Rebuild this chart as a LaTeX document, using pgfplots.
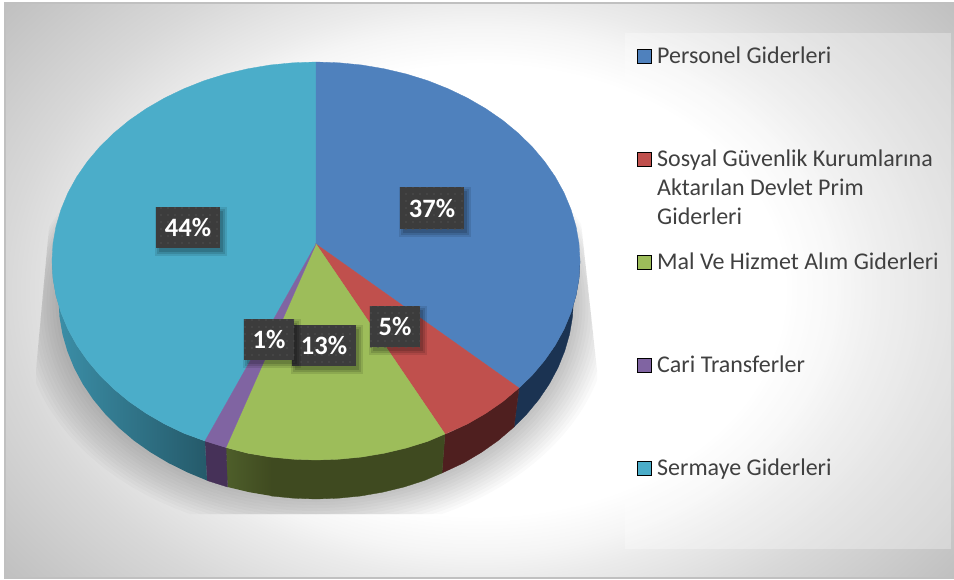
\documentclass[border=0pt]{standalone}
\usepackage{fontspec}
\setmainfont{Carlito}
\usepackage{pgfplots}
\pgfplotsset{compat=1.18}
\usetikzlibrary{patterns,calc}
\definecolor{cA}{HTML}{4F81BD}
\definecolor{cB}{HTML}{C0504D}
\definecolor{cC}{HTML}{9DBD5A}
\definecolor{cD}{HTML}{8064A2}
\definecolor{cE}{HTML}{4BADC9}
\definecolor{sA}{HTML}{1B3352}
\definecolor{sB}{HTML}{4F1F1F}
\definecolor{sCa}{HTML}{4E5E2A}
\definecolor{sCb}{HTML}{3F4A20}
\definecolor{sD}{HTML}{463158}
\definecolor{sEa}{HTML}{3C90A9}
\definecolor{sEb}{HTML}{255A6A}
\definecolor{boxc}{HTML}{3C3C3C}
\definecolor{boxd}{HTML}{505050}
\definecolor{txt}{HTML}{404040}
\definecolor{g245}{HTML}{F5F5F5}
\definecolor{g235}{HTML}{EBEBEB}
\definecolor{g216}{HTML}{D8D8D8}
\definecolor{g191}{HTML}{BFBFBF}
\definecolor{g184}{HTML}{B8B8B8}
\definecolor{fr}{HTML}{C0C0C0}
\pgfdeclareradialshading{bgrad}{\pgfpointorigin}{color(0bp)=(white); color(16bp)=(white); color(18.7bp)=(g245); color(20.5bp)=(g235); color(25bp)=(g216); color(32.5bp)=(g191); color(36bp)=(g184); color(50bp)=(g184)}
\pgfdeclarepatternformonly{lbdots}{\pgfqpoint{-1pt}{-1pt}}{\pgfqpoint{1pt}{1pt}}{\pgfqpoint{7pt}{7pt}}{\pgfpathcircle{\pgfpointorigin}{0.9pt}\pgfusepath{fill}}
\newcommand\lab[5]{%
  \node[fill=black,opacity=.10,inner sep=0pt,minimum width={#3pt+8pt},minimum height={#4pt+8pt},xshift=3pt,yshift=-4pt] at (axis cs:#1,#2) {};
  \node[fill=black,opacity=.12,inner sep=0pt,minimum width={#3pt+4pt},minimum height={#4pt+4pt},xshift=3pt,yshift=-4pt] at (axis cs:#1,#2) {};
  \node[fill=black,opacity=.14,inner sep=0pt,minimum width={#3pt},minimum height={#4pt},xshift=3pt,yshift=-4pt] at (axis cs:#1,#2) {};
  \node[fill=boxc,inner sep=0pt,minimum width={#3pt},minimum height={#4pt},postaction={pattern=lbdots,pattern color=boxd}] at (axis cs:#1,#2) {};
  \node[text=white,inner sep=0pt,font=\fontsize{26.5}{30}\selectfont\bfseries] at (axis cs:#1,#2) {#5};
}
\begin{document}
\begin{tikzpicture}
\useasboundingbox (0,0) rectangle (954pt,579pt);
\begin{axis}[
  width=954pt,height=579pt,scale only axis,hide axis,
  xmin=0,xmax=954,ymin=0,ymax=579,y dir=reverse,clip=true]

% background
\begin{scope}
\clip (axis cs:5,3) rectangle (axis cs:954,578);
\shade[shading=bgrad] (axis cs:5,-62) rectangle (axis cs:955,642);
\end{scope}
\draw[fr,line width=1.5pt] (axis cs:954,3) -- (axis cs:5,3) -- (axis cs:5,578) -- (axis cs:954,578);
% legend panel
\fill[white,opacity=.3] (axis cs:625,33) rectangle (axis cs:951,549);

% pie shadow
\begin{scope}
\clip (axis cs:52,195) -- (axis cs:36,370) -- (axis cs:36,514) -- (axis cs:597,514) -- (axis cs:597,370) -- (axis cs:578,195) -- cycle;
\pgfplotsinvokeforeach{36,33,30,27,24,21,18,15,12,9,6,3}{
  \fill[black,opacity=.02,yshift={-0.5*#1pt}] (axis cs:316,299.5) ellipse [x radius={257.5pt+#1pt},y radius={199.5pt+0.5*#1pt}];
}
\end{scope}

% side walls
\addplot[draw=sA,line width=.3pt,fill=sA] coordinates {
(573.5,299.5)(572.5,316.9)(569.6,334.1)(564.7,351.1)(558,367.7)(549.4,383.8)(539,399.3)(526.9,413.9)(514,427)
(519,388)(518.2,388.9)(532.3,375.1)(544.6,360.5)(555.3,345.1)(564.1,329.1)(571,312.5)(576,295.5)(579,278.4)(580,261)} -- cycle;
\addplot[draw=sB,line width=.3pt,fill=sB] coordinates {
(514,427)(498.1,440.6)(481.5,452.3)(463.7,462.9)(442,473)
(445,434)(448,433.3)(467.4,424)(485.7,413.4)(502.7,401.7)(519,388)} -- cycle;
\addplot[draw=sCb,line width=.3pt,fill=sCb] coordinates {
(442,473)(424.8,480.3)(404.1,487)(382.6,492.2)(360.7,496)(338.5,498.2)(316,499)(293.5,498.2)(271.3,496)
(270.2,457)(293,459.2)(316,460)(339,459.2)(361.8,457)(384.3,453.2)(406.3,448)(427.6,441.4)(445,434)} -- cycle;
\addplot[draw=none,left color=sCa,right color=sCb] coordinates {
(271.8,496)(249.4,492.2)(227.5,487)(226,447.5)(247.7,453.2)(270.7,457)} -- cycle;
\addplot[draw=sD,line width=.3pt,fill=sD] coordinates {
(227.5,487)(207,480.5)(205,441)(226,447.5)} -- cycle;
\addplot[draw=none,left color=sEa,right color=sEb] coordinates {
(207,480.5)(187.2,472.3)(168.3,462.9)(150.5,452.3)(133.9,440.6)(118.8,427.7)(105.1,413.9)(93,399.3)(82.6,383.8)(74,367.7)(67.3,351.1)(62.4,334.1)(59.5,316.9)(58.5,299.5)
(52,261)(53,278.4)(56,295.5)(61,312.5)(67.9,329.1)(76.7,345.1)(87.4,360.5)(99.7,375.1)(113.8,388.9)(129.3,401.7)(146.3,413.4)(164.6,424)(184,433.3)(205,441)} -- cycle;

% top surface
\addplot[draw=cE,line width=.3pt,fill=cE] coordinates {
(316,244)(205,441)(184,433.3)(164.6,424)(146.3,413.4)(129.3,401.7)(113.8,388.9)(99.7,375.1)(87.4,360.5)(76.7,345.1)(67.9,329.1)(61,312.5)(56,295.5)(53,278.4)(52,261)(53,243.6)(56,226.5)(61,209.5)(67.9,192.9)(76.7,176.9)(87.4,161.5)(99.7,146.9)(113.8,133.1)(129.3,120.3)(146.3,108.6)(164.6,98)(184,88.7)(204.4,80.6)(225.7,74)(247.7,68.8)(270.2,65)(293,62.8)(316,62)} -- cycle;
\addplot[draw=cA,line width=.3pt,fill=cA] coordinates {
(316,244)(316,62)(339,62.8)(361.8,65)(384.3,68.8)(406.3,74)(427.6,80.6)(448,88.7)(467.4,98)(485.7,108.6)(502.7,120.3)(518.2,133.1)(532.3,146.9)(544.6,161.5)(555.3,176.9)(564.1,192.9)(571,209.5)(576,226.5)(579,243.6)(580,261)(579,278.4)(576,295.5)(571,312.5)(564.1,329.1)(555.3,345.1)(544.6,360.5)(532.3,375.1)(519,388)} -- cycle;
\addplot[draw=cB,line width=.3pt,fill=cB] coordinates {
(316,244)(519,388)(502.7,401.7)(485.7,413.4)(467.4,424)(445,434)} -- cycle;
\addplot[draw=cC,line width=.3pt,fill=cC] coordinates {
(316,244)(445,434)(427.6,441.4)(406.3,448)(384.3,453.2)(361.8,457)(339,459.2)(316,460)(293,459.2)(270.2,457)(247.7,453.2)(226,447.5)} -- cycle;
\addplot[draw=cD,line width=.3pt,fill=cD] coordinates {
(316,244)(226,447.5)(205,441)} -- cycle;

% data labels
\lab{432}{208}{64}{42}{37\%}
\lab{395}{326.5}{50}{41}{5\%}
\lab{324}{345.5}{64}{41}{13\%}
\lab{269}{339.5}{50}{41}{1\%}
\lab{188}{227.5}{64}{41}{44\%}

% legend
\addplot[only marks,mark=square*,mark size=7pt,mark options={draw=none,fill=cA}] coordinates {(644,56)};
\addplot[only marks,mark=square*,mark size=7pt,mark options={draw=none,fill=cB}] coordinates {(644,159)};
\addplot[only marks,mark=square*,mark size=7pt,mark options={draw=none,fill=cC}] coordinates {(644,262)};
\addplot[only marks,mark=square*,mark size=7pt,mark options={draw=none,fill=cD}] coordinates {(644,365)};
\addplot[only marks,mark=square*,mark size=7pt,mark options={draw=none,fill=cE}] coordinates {(644,468)};
\tikzset{lg/.style={anchor=base west,inner sep=0pt,text=txt,font=\fontsize{24}{28}\selectfont}}
\node[lg] at (axis cs:657,63) {Personel Giderleri};
\node[lg] at (axis cs:657,166) {Sosyal Güvenlik Kurumlarına};
\node[lg] at (axis cs:657,195) {Aktarılan Devlet Prim};
\node[lg] at (axis cs:657,224) {Giderleri};
\node[lg] at (axis cs:657,269) {Mal Ve Hizmet Alım Giderleri};
\node[lg] at (axis cs:657,372) {Cari Transferler};
\node[lg] at (axis cs:657,475) {Sermaye Giderleri};
\end{axis}
\end{tikzpicture}
\end{document}
